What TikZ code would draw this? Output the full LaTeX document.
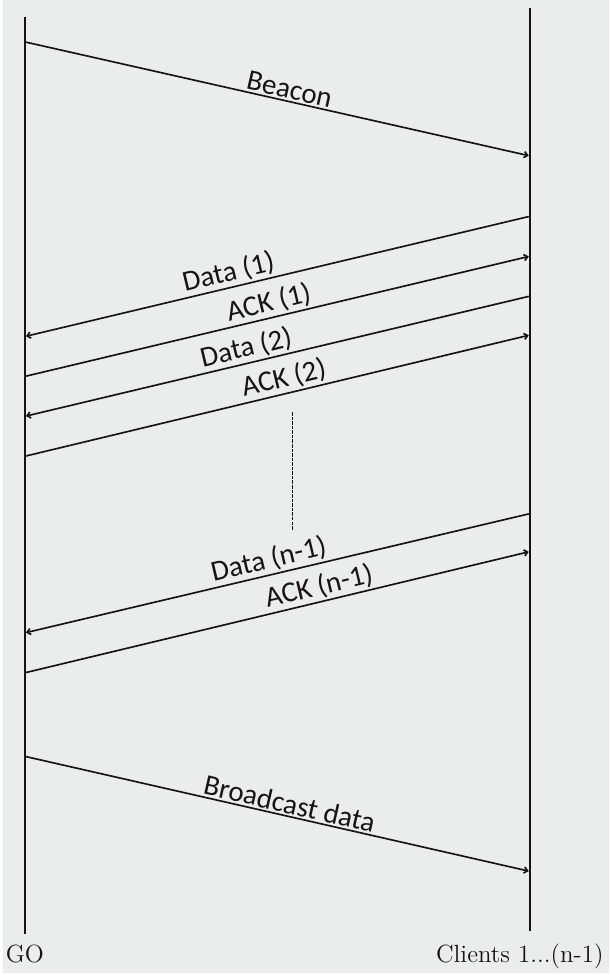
\documentclass[tikz,border=0pt]{standalone}
\usepackage{fontspec}
\usepackage{tikz}
\usetikzlibrary{arrows.meta}
\newfontfamily\etiketFont{Carlito}
\definecolor{kagitGri}{HTML}{EAEDED}
\definecolor{murekkep}{HTML}{151515}

\begin{document}
\begin{tikzpicture}[x=0.02cm,y=-0.02cm,
  hayatCizgisi/.style={murekkep,line width=1.2pt},
  mesaj/.style={murekkep,line width=0.95pt,-{Straight Barb[length=2pt,width=3.5pt]}},
  etiket/.style={murekkep,font=\etiketFont\fontsize{16.5}{18}\selectfont,above,sloped,inner sep=1pt},
  taraf/.style={murekkep,font=\fontsize{14.2}{16}\selectfont,anchor=base}]
\fill[kagitGri] (0,0) rectangle (607,975);
\coordinate (goUst) at (22,17);
\coordinate (goAlt) at (22,936);
\coordinate (clUst) at (528,8);
\coordinate (clAlt) at (528,933);
\draw[hayatCizgisi] (goUst) -- (goAlt);
\draw[hayatCizgisi] (clUst) -- (clAlt);
\node[taraf] (go) at (22,965) {GO};
\node[taraf] (clients) at (518,965) {Clients 1...(n-1)};
\coordinate (beaconA) at (22,42);
\coordinate (beaconB) at (527,156);
\draw[mesaj] (beaconA) -- node[etiket,pos=0.52]{Beacon} (beaconB);
\coordinate (data1A) at (527,217);
\coordinate (data1B) at (23,337);
\draw[mesaj] (data1A) -- node[etiket,pos=0.59]{Data (1)} (data1B);
\coordinate (ack1A) at (23,377);
\coordinate (ack1B) at (527,257);
\draw[mesaj] (ack1A) -- node[etiket,pos=0.49]{ACK (1)} (ack1B);
\coordinate (data2A) at (527,297);
\coordinate (data2B) at (23,417);
\draw[mesaj] (data2A) -- node[etiket,pos=0.555]{Data (2)} (data2B);
\coordinate (ack2A) at (23,457);
\coordinate (ack2B) at (527,336);
\draw[mesaj] (ack2A) -- node[etiket,pos=0.52]{ACK (2)} (ack2B);
\coordinate (noktaUst) at (290,413);
\coordinate (noktaAlt) at (290,531);
\draw[murekkep,dash pattern=on 2pt off 0.6pt,line width=0.7pt] (noktaUst) -- (noktaAlt);
\coordinate (dataNA) at (527,515);
\coordinate (dataNB) at (23,634);
\draw[mesaj] (dataNA) -- node[etiket,pos=0.51]{Data (n-1)} (dataNB);
\coordinate (ackNA) at (23,674);
\coordinate (ackNB) at (527,553);
\draw[mesaj] (ackNA) -- node[etiket,pos=0.59]{ACK (n-1)} (ackNB);
\coordinate (yayinA) at (22,758);
\coordinate (yayinB) at (527,873);
\draw[mesaj] (yayinA) -- node[etiket,pos=0.52]{Broadcast data} (yayinB);
\end{tikzpicture}
\end{document}
